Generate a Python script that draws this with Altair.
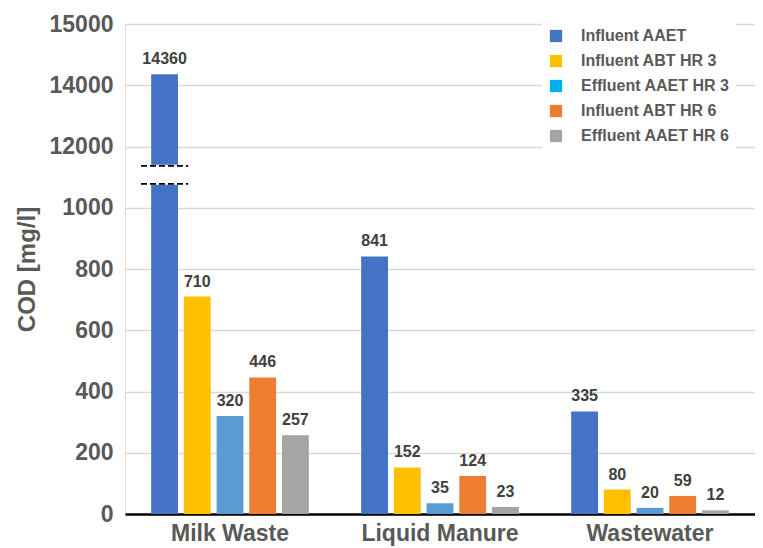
import altair as alt
import pandas as pd

# ---------------- data ----------------
categories = ["Milk Waste", "Liquid Manure", "Wastewater"]
series_names = ["Influent AAET", "Influent ABT HR 3", "Effluent AAET HR 3",
                "Influent ABT HR 6", "Effluent AAET HR 6"]
influent_aaet = [14360, 841, 335]
influent_abt_hr3 = [710, 152, 80]
effluent_aaet_hr3 = [320, 35, 20]
influent_abt_hr6 = [446, 124, 59]
effluent_aaet_hr6 = [257, 23, 12]

bar_colors = ["#4472C4", "#FFC000", "#5B9BD5", "#ED7D31", "#A5A5A5"]
legend_colors = ["#4472C4", "#FFC000", "#00B0F0", "#ED7D31", "#A5A5A5"]

tick_values = [0, 200, 400, 600, 800, 1000, 1200, 1400, 1600]
tick_labels = ["0", "200", "400", "600", "800", "1000", "12000", "14000", "15000"]

axis_break = 1000      # above this the (broken) axis reads ten times the lower scale
upper_factor = 10
gap_low, gap_high = 1078, 1137   # white gap in the broken bar (axis units)

FONT = "Liberation Sans"
GREY = "#595959"

all_values = [influent_aaet, influent_abt_hr3, effluent_aaet_hr3,
              influent_abt_hr6, effluent_aaet_hr6]
rows = []
for s, vals in zip(series_names, all_values):
    for c, v in zip(categories, vals):
        rows.append({"category": c, "series": s, "value": v,
                     "plotted": v if v <= axis_break else v / upper_factor})
df = pd.DataFrame(rows)

broken = df[df["value"] > axis_break].copy()
broken["lo"] = gap_low
broken["hi"] = gap_high
dash_rows = []
for _, r in broken.iterrows():
    for yv in (gap_low, gap_high):
        dash_rows.append({"category": r["category"], "series": r["series"], "y": yv})
dash_df = pd.DataFrame(dash_rows)

legend_df = pd.DataFrame({"series": series_names})

# label expression for the broken axis
label_expr = "'" + tick_labels[-1] + "'"
for v, l in zip(reversed(tick_values[:-1]), reversed(tick_labels[:-1])):
    label_expr = f"datum.value == {v} ? '{l}' : " + label_expr

# ---------------- scales ----------------
pad_inner, pad_outer = 0.18, 0.8
x_scale = alt.Scale(domain=categories, paddingInner=0, paddingOuter=0)
off_scale = alt.Scale(domain=series_names, paddingInner=pad_inner, paddingOuter=pad_outer)
y_scale = alt.Scale(domain=[tick_values[0], tick_values[-1]], nice=False)
Y_TITLE = "COD [mg/l]"

x_enc = alt.X("category:N", scale=x_scale, sort=categories,
              axis=alt.Axis(title=None, labelAngle=0, domain=True, domainColor="black",
                            domainWidth=2.5, ticks=False, grid=False, labelFont=FONT,
                            labelFontSize=23, labelFontWeight="bold", labelColor=GREY,
                            labelPadding=8))
off_enc = alt.XOffset("series:N", scale=off_scale, sort=series_names)
y_axis = alt.Axis(values=tick_values, labelExpr=label_expr, grid=True, gridColor="#d9d9d9",
                  gridWidth=1.5, domain=False, ticks=False, labelFont=FONT, labelFontSize=23,
                  labelFontWeight="bold", labelColor=GREY, labelPadding=12,
                  titleFont=FONT, titleFontSize=24, titleFontWeight="bold",
                  titleColor=GREY, titlePadding=10)

bars = alt.Chart(df).mark_bar().encode(
    x=x_enc,
    xOffset=off_enc,
    y=alt.Y("plotted:Q", scale=y_scale, axis=y_axis, title=Y_TITLE),
    color=alt.Color("series:N", scale=alt.Scale(domain=series_names, range=bar_colors),
                    legend=None),
)

labels = alt.Chart(df).mark_text(baseline="bottom", dy=-7, font=FONT, fontSize=16,
                                 fontWeight="bold", color="#404040").encode(
    x=x_enc,
    xOffset=off_enc,
    y=alt.Y("plotted:Q", scale=y_scale, title=Y_TITLE),
    text=alt.Text("value:Q", format="d"),
)

gap = alt.Chart(broken).mark_bar(color="white", stroke="white", strokeWidth=2).encode(
    x=x_enc,
    xOffset=off_enc,
    y=alt.Y("lo:Q", scale=y_scale, title=Y_TITLE),
    y2=alt.Y2("hi", title=Y_TITLE),
)

# dashed break marks: a bit wider than the broken bar
n = len(series_names)
step = 1.0 / (n - pad_inner + 2 * pad_outer)
idx = series_names.index(broken["series"].iloc[0]) if len(broken) else 0
bar_start = (pad_outer + idx) * step
bar_end = bar_start + (1 - pad_inner) * step
ext = 0.38 * (1 - pad_inner) * step
dashes = alt.Chart(dash_df).mark_rule(color="black", strokeWidth=1.8,
                                      strokeDash=[6, 3]).encode(
    x=alt.X("category:N", scale=x_scale, sort=categories, bandPosition=bar_start - ext),
    x2=alt.X2("category", bandPosition=bar_end + ext),
    y=alt.Y("y:Q", scale=y_scale, title=Y_TITLE),
)

legend_layer = alt.Chart(legend_df).mark_square(opacity=0).encode(
    color=alt.Color("series:N", sort=series_names,
                    scale=alt.Scale(domain=series_names, range=legend_colors),
                    legend=alt.Legend(title=None, orient="none", legendX=417, legendY=-2,
                                      fillColor="white", padding=6, symbolType="square",
                                      symbolSize=150, symbolStrokeWidth=0, symbolOpacity=1,
                                      labelFont=FONT, labelFontSize=16, labelFontWeight="bold",
                                      labelColor=GREY, labelOffset=17, rowPadding=9,
                                      labelLimit=300)),
)

chart = alt.layer(bars, gap, dashes, labels, legend_layer).resolve_scale(
    color="independent"
).properties(
    width=630, height=490,
    autosize=alt.AutoSizeParams(type="none"),
    padding={"left": 117, "top": 16, "right": 0, "bottom": 34},
).configure_view(stroke=None).configure(background="white")

chart.save("out.html", embed_options={"renderer": "svg", "actions": False})
